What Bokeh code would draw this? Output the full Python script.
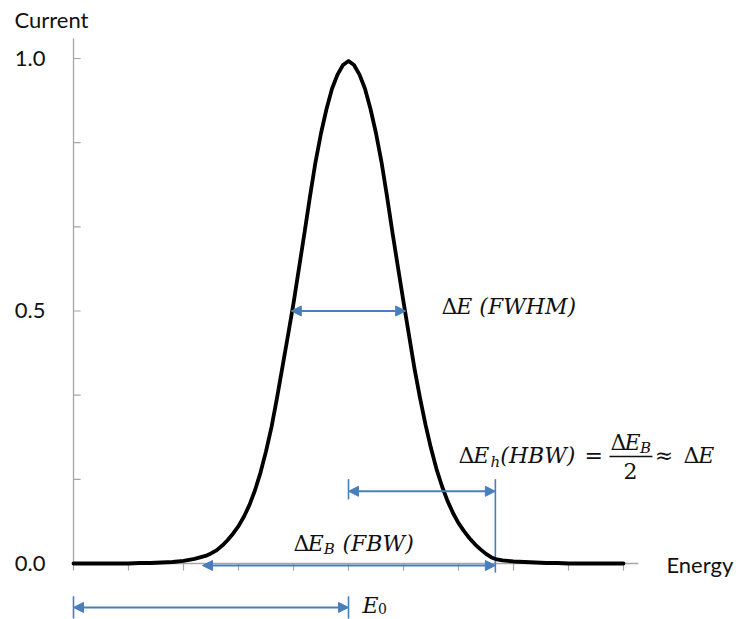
from bokeh.plotting import figure
from bokeh.models import ColumnDataSource, Arrow, NormalHead, Range1d
from bokeh.core.properties import value
from bokeh.embed import file_html
from bokeh.resources import INLINE

# ---- data ----
energy = [0.0, 0.2, 0.4, 0.6, 0.8, 1.0, 1.2, 1.4, 1.6, 1.8,
          2.0, 2.1, 2.2, 2.3, 2.4, 2.5, 2.6, 2.7, 2.8, 2.9,
          3.0, 3.1, 3.2, 3.3, 3.4, 3.5, 3.6, 3.7, 3.8, 3.9,
          4.0, 4.1, 4.2, 4.3, 4.4, 4.5, 4.6, 4.7, 4.8, 4.9,
          5.0, 5.1, 5.2, 5.3, 5.4, 5.5, 5.6, 5.7, 5.8, 5.9,
          6.0, 6.1, 6.2, 6.3, 6.4, 6.5, 6.6, 6.7, 6.8, 6.9,
          7.0, 7.1, 7.2, 7.3, 7.4, 7.5, 7.6, 7.7, 7.8, 7.9,
          8.0, 8.2, 8.4, 8.6, 8.8, 9.0, 9.2, 9.4, 9.6, 9.8, 10.0]
current = [0.000, 0.000, 0.000, 0.000, 0.000, 0.000, 0.001, 0.001, 0.002, 0.003,
           0.005, 0.007, 0.009, 0.012, 0.015, 0.020, 0.026, 0.035, 0.046, 0.059,
           0.074, 0.093, 0.116, 0.145, 0.180, 0.222, 0.270, 0.328, 0.390, 0.452,
           0.515, 0.585, 0.655, 0.727, 0.795, 0.852, 0.900, 0.940, 0.968, 0.987,
           0.995, 0.987, 0.968, 0.940, 0.900, 0.852, 0.795, 0.727, 0.655, 0.586,
           0.518, 0.452, 0.386, 0.328, 0.275, 0.228, 0.187, 0.153, 0.124, 0.100,
           0.080, 0.064, 0.050, 0.038, 0.028, 0.019, 0.012, 0.008, 0.006, 0.005,
           0.004, 0.003, 0.002, 0.001, 0.001, 0.000, 0.000, 0.000, 0.000, 0.000, 0.000]

x_ticks = [0, 1, 2, 3, 4, 5, 6, 7, 8, 9, 10]
y_ticks = [0.0, 1 / 6, 2 / 6, 0.5, 4 / 6, 5 / 6, 1.0]
y_label_values = [0.0, 0.5, 1.0]
y_labels = ["0.0", "0.5", "1.0"]
x_title = "Energy"
y_title = "Current"

# characteristic energies
e_zero = 5.0
fwhm_lo, fwhm_hi, half_max = 3.96, 6.04, 0.5
fbw_lo, fbw_hi = 2.345, 7.67
hbw_level = 0.143
fbw_level = -0.004
e0_level = -0.087

BLUE = "#4a7ebb"
GRAY = "#a6a6a6"
TXT = "#111111"

p = figure(width=736, height=619,
           x_range=Range1d(-1.3273, 12.0545), y_range=Range1d(-0.11089, 1.11485),
           output_backend="svg", toolbar_location=None, title=None,
           x_axis_location=None, y_axis_location=None, min_border=0)
for g in p.grid:
    g.visible = False
p.outline_line_color = None
p.background_fill_color = "white"
p.border_fill_color = "white"

# ---- axes ----
x_end = 10.27
y_top = 1.04
tlx = 0.13   # tick length along x (data units)
tly = 0.014  # tick length along y (data units)
p.segment(x0=[0, 0], y0=[0, 0], x1=[0, x_end], y1=[y_top, 0], line_color=GRAY, line_width=1.3)
p.segment(x0=[0] * len(y_ticks), y0=y_ticks, x1=[tlx] * len(y_ticks), y1=y_ticks,
          line_color=GRAY, line_width=1.2)
p.segment(x0=x_ticks, y0=[0] * len(x_ticks), x1=x_ticks, y1=[-tly] * len(x_ticks),
          line_color=GRAY, line_width=1.2)
p.text(x=[-0.51] * 3, y=y_label_values, text=y_labels, text_font=value("Lato"),
       text_font_size="22px", text_align="right", text_baseline="middle", text_color=TXT)
p.text(x=[-1.073], y=[1.0773], text=[y_title], text_font=value("Lato"),
       text_font_size="22px", text_align="left", text_baseline="alphabetic", text_color=TXT)
p.text(x=[10.78], y=[-0.0019], text=[x_title], text_font=value("Lato"),
       text_font_size="22px", text_align="left", text_baseline="alphabetic", text_color=TXT)

# ---- guide lines (vertical markers) ----
p.segment(x0=[e_zero, fbw_hi, 0, e_zero],
          y0=[hbw_level + 0.024, hbw_level + 0.024, e0_level + 0.022, e0_level + 0.022],
          x1=[e_zero, fbw_hi, 0, e_zero],
          y1=[hbw_level - 0.016, -0.018, e0_level - 0.022, e0_level - 0.022],
          line_color=BLUE, line_width=1.6)

# ---- curve ----
p.line(energy, current, line_color="black", line_width=3.8, line_join="round", line_cap="round")

# ---- arrows ----
arrows = ColumnDataSource(dict(
    xs=[fwhm_lo, e_zero, fbw_lo, 0.0],
    xe=[fwhm_hi, fbw_hi, fbw_hi, e_zero],
    ys=[half_max, hbw_level, fbw_level, e0_level],
    ye=[half_max, hbw_level, fbw_level, e0_level]))
p.add_layout(Arrow(x_start="xs", y_start="ys", x_end="xe", y_end="ye", source=arrows,
                   line_color=BLUE, line_width=2,
                   start=NormalHead(size=10, fill_color=BLUE, line_color=BLUE, line_width=1),
                   end=NormalHead(size=10, fill_color=BLUE, line_color=BLUE, line_width=1)))

# ---- math labels ----
SERIF = value("DejaVu Serif")
MS = "22px"
SS = "15px"
# upright Delta
delta_x = [6.691, 7.0, 9.764, 11.091, 4.0]
delta_y = [0.5089, 0.2139, 0.2396, 0.2139, 0.0396]
p.text(x=delta_x, y=delta_y, text=["Δ"] * 5, text_font=SERIF, text_font_size=MS,
       text_baseline="alphabetic", text_color=TXT)
# italic main pieces
it_x = [6.96, 7.27, 7.76, 10.02, 11.36, 4.26, 4.891, 5.255]
it_y = [0.5089, 0.2139, 0.2139, 0.2396, 0.2139, 0.0396, 0.0396, -0.0831]
it_t = ["E (FWHM)", "E", "(HBW)", "E", "E", "E", "(FBW)", "E"]
p.text(x=it_x, y=it_y, text=it_t, text_font=SERIF, text_font_style="italic",
       text_font_size=MS, text_baseline="alphabetic", text_color=TXT)
# italic subscripts
p.text(x=[7.58, 10.30, 4.55], y=[0.2019, 0.2297, 0.0297], text=["h", "B", "B"],
       text_font=SERIF, text_font_style="italic", text_font_size=SS,
       text_baseline="alphabetic", text_color=TXT)
# upright operators / numbers
p.text(x=[9.29, 10.57], y=[0.2139, 0.2139], text=["=", "≈"], text_font=SERIF,
       text_font_size=MS, text_baseline="alphabetic", text_color=TXT)
p.text(x=[10.127], y=[0.1822], text=["2"], text_font=SERIF, text_font_size=MS,
       text_align="center", text_baseline="alphabetic", text_color=TXT)
p.text(x=[5.537], y=[-0.0891], text=["0"], text_font=SERIF, text_font_size="14px",
       text_baseline="alphabetic", text_color=TXT)
# fraction bar
p.segment(x0=[9.745], y0=[0.2119], x1=[10.527], y1=[0.2119], line_color=TXT, line_width=1.3)

open("out.html", "w").write(file_html(p, INLINE))
